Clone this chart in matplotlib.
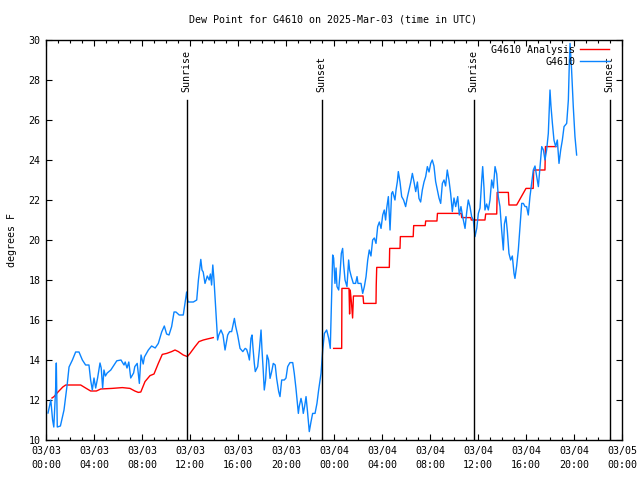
import numpy as np
import matplotlib
matplotlib.use('Agg')
import matplotlib.pyplot as plt

# hours since 2025-03-03 00:00 UTC
obs_t = [0.17, 0.4, 0.55, 0.65, 0.8, 0.86, 0.94, 1.2, 1.5, 1.78, 1.92, 2.2, 2.47, 2.75, 3.03, 3.3,
         3.58, 3.72, 3.86, 4.0, 4.14, 4.3, 4.5, 4.6, 4.72, 4.83, 4.95, 5.1, 5.4, 5.67, 5.9, 6.25,
         6.5, 6.6, 6.75, 6.9, 7.06, 7.3, 7.4, 7.6, 7.78, 7.92, 8.1, 8.2, 8.53, 8.8, 9.1, 9.36,
         9.64, 9.86, 10.05, 10.25, 10.47, 10.67, 10.83, 11.1, 11.44, 11.58, 11.72, 11.8, 11.86, 12.28,
         12.56, 12.7, 12.9, 13.0, 13.1, 13.25, 13.44, 13.6, 13.7, 13.8, 13.9, 14.0, 14.14, 14.3,
         14.4, 14.58, 14.75, 14.92, 15.14, 15.3, 15.47, 15.7, 15.8, 15.97, 16.17, 16.4, 16.6, 16.72,
         16.86, 16.95, 17.08, 17.17, 17.25, 17.36, 17.44, 17.64, 17.78, 17.92, 18.0, 18.1, 18.19, 18.3,
         18.42, 18.55, 18.67, 18.8, 18.94, 19.1, 19.22, 19.39, 19.5, 19.64, 19.86, 20.0, 20.14, 20.33,
         20.56, 20.69, 20.83, 20.92, 21.03, 21.1, 21.25, 21.35, 21.44, 21.55, 21.67, 21.78, 21.89, 21.94,
         22.08, 22.22, 22.42, 22.58, 22.72, 22.92, 23.06, 23.2, 23.39, 23.56, 23.69, 23.8, 23.89, 23.97,
         24.08, 24.17, 24.25, 24.39, 24.5, 24.61, 24.72, 24.8, 24.92, 25.08, 25.22, 25.3, 25.44, 25.61,
         25.8, 25.92, 26.0, 26.25, 26.39, 26.53, 26.67, 26.81, 26.94, 27.08, 27.22, 27.36, 27.5, 27.64,
         27.78, 27.92, 28.06, 28.19, 28.3, 28.39, 28.53, 28.67, 28.8, 28.89, 29.08, 29.17, 29.28, 29.36,
         29.5, 29.64, 29.8, 29.97, 30.1, 30.25, 30.4, 30.53, 30.67, 30.81, 30.95, 31.08, 31.22, 31.36,
         31.5, 31.64, 31.78, 31.92, 32.06, 32.19, 32.33, 32.47, 32.61, 32.75, 32.89, 33.03, 33.17, 33.3,
         33.44, 33.58, 33.72, 33.86, 34.0, 34.14, 34.31, 34.44, 34.58, 34.72, 34.92, 35.06, 35.19, 35.33,
         35.47, 35.61, 35.75, 35.9, 36.03, 36.17, 36.31, 36.39, 36.5, 36.58, 36.72, 36.86, 37.0, 37.14,
         37.28, 37.42, 37.56, 37.69, 37.83, 37.97, 38.11, 38.2, 38.33, 38.45, 38.58, 38.72, 38.86, 39.0,
         39.08, 39.22, 39.36, 39.5, 39.64, 39.78, 39.92, 40.05, 40.19, 40.33, 40.47, 40.61, 40.75, 40.89,
         41.03, 41.17, 41.31, 41.45, 41.58, 41.72, 41.86, 42.0, 42.08, 42.2, 42.33, 42.47, 42.61, 42.75,
         42.89, 43.03, 43.17, 43.39, 43.53, 43.61, 43.67, 43.8, 43.94, 44.08, 44.22]
obs_v = [11.35, 12.0, 11.0, 10.65, 12.5, 13.85, 10.65, 10.7, 11.5, 12.85, 13.65, 14.0, 14.4, 14.4, 14.0, 13.75,
         13.75, 13.0, 12.5, 13.1, 12.6, 13.1, 13.85, 13.6, 12.6, 13.5, 13.2, 13.35, 13.5, 13.75, 13.96, 14.0,
         13.75, 13.9, 13.6, 13.9, 13.1, 13.35, 13.67, 13.83, 12.83, 14.25, 13.8, 14.15, 14.5, 14.7, 14.6, 14.83,
         15.4, 15.7, 15.3, 15.25, 15.67, 16.4, 16.4, 16.25, 16.25, 16.83, 17.4, 17.0, 16.9, 16.9,
         17.0, 18.0, 19.03, 18.5, 18.4, 17.83, 18.2, 18.0, 18.3, 17.75, 18.75, 18.0, 16.6, 15.0,
         15.25, 15.5, 15.25, 14.5, 15.25, 15.42, 15.42, 16.08, 15.7, 15.25, 14.58, 14.42, 14.58, 14.53,
         14.25, 14.0, 15.08, 15.25, 14.6, 13.83, 13.42, 13.67, 14.5, 15.5, 14.5, 13.5, 12.5, 13.0,
         14.25, 14.0, 13.08, 13.4, 13.83, 13.75, 13.08, 12.42, 12.17, 13.0, 13.0, 13.1, 13.67, 13.87,
         13.87, 13.33, 12.58, 12.0, 11.33, 11.67, 12.08, 11.8, 11.33, 11.67, 12.17, 11.5, 10.75, 10.42,
         10.9, 11.33, 11.33, 11.83, 12.5, 13.33, 14.5, 15.33, 15.5, 15.08, 14.58, 17.17, 19.25, 19.1,
         17.83, 18.6, 17.67, 17.5, 18.3, 19.33, 19.58, 18.8, 18.0, 17.67, 19.0, 18.5, 18.17, 17.83,
         17.83, 18.17, 17.83, 17.83, 17.33, 17.67, 18.17, 19.0, 19.5, 19.2, 20.0, 20.1, 19.83, 20.67,
         20.9, 20.58, 21.25, 21.5, 21.0, 21.58, 22.17, 20.5, 22.33, 22.42, 22.0, 22.5, 22.92, 23.42,
         22.9, 22.17, 22.0, 21.67, 22.1, 22.5, 22.9, 23.33, 22.9, 22.42, 22.9, 22.08, 21.9, 22.5,
         22.9, 23.17, 23.67, 23.4, 23.83, 24.0, 23.7, 22.92, 22.5, 22.1, 21.83, 22.83, 23.0, 22.7,
         23.5, 23.0, 22.33, 21.42, 22.1, 21.67, 22.17, 21.25, 21.67, 21.17, 20.58, 21.4, 22.0, 21.67,
         21.17, 21.0, 20.17, 20.6, 21.33, 21.6, 23.0, 23.67, 22.6, 21.5, 21.8, 21.5, 22.0, 23.0,
         22.6, 23.67, 23.3, 22.17, 21.67, 20.5, 19.5, 20.8, 21.17, 20.4, 19.33, 19.0, 19.2, 18.33,
         18.08, 18.7, 19.5, 20.67, 21.83, 21.83, 21.67, 21.67, 21.25, 22.17, 22.83, 23.5, 23.7, 23.17,
         22.67, 23.7, 24.67, 24.5, 24.0, 24.5, 25.33, 27.5, 26.7, 25.83, 25.0, 24.67, 25.0, 23.83,
         24.5, 25.0, 25.67, 25.83, 27.0, 28.83, 29.83, 28.5, 26.67, 25.17, 24.25]

# analysis, nan marks the gap
ana_t = [0.5, 0.67, 1.0, 1.4, 1.64, 2.89, 3.3, 3.72, 4.2, 4.56, 5.5, 6.36, 7.0, 7.4, 7.69, 7.9,
         8.25, 8.67, 9.0, 9.36, 9.69, 10.06, 10.47, 10.75, 11.03, 11.44, 11.78, 12.0, 12.42, 12.75,
         13.11, 13.44, 13.94, 18.0,
         23.97, 24.64, 24.66, 25.25, 25.3, 25.35, 25.45, 25.55, 25.62, 26.42, 26.47, 27.5, 27.52,
         27.56, 28.61, 28.64, 29.5, 29.53, 30.6, 30.64, 31.6, 31.64, 32.58, 32.62, 34.6, 34.64,
         35.4, 35.44, 36.58, 36.64, 37.56, 37.6, 38.53, 38.58, 39.22, 40.0, 40.6, 40.64, 41.58,
         41.62, 42.5]
ana_v = [12.1, 12.17, 12.4, 12.65, 12.75, 12.75, 12.6, 12.45, 12.45, 12.55, 12.58, 12.62, 12.58, 12.45, 12.38, 12.4,
         12.92, 13.22, 13.3, 13.83, 14.28, 14.33, 14.42, 14.5, 14.42, 14.25, 14.17, 14.33, 14.67, 14.92,
         15.0, 15.05, 15.12, np.nan,
         14.58, 14.58, 17.58, 17.58, 16.3, 17.5, 16.9, 16.1, 17.2, 17.2, 16.83, 16.83, 17.75,
         18.63, 18.63, 19.58, 19.58, 20.17, 20.17, 20.72, 20.72, 20.95, 20.95, 21.33, 21.33, 21.12,
         21.12, 21.0, 21.0, 21.3, 21.3, 22.38, 22.38, 21.75, 21.75, 22.58, 22.58, 23.5, 23.5,
         24.67, 24.67]

sun_t = [11.75, 23.0, 35.67, 47.0]
sun_lbl = ['Sunrise', 'Sunset', 'Sunrise', 'Sunset']

xticks = list(range(0, 49, 4))
xlabels = ['03/03\n00:00', '03/03\n04:00', '03/03\n08:00', '03/03\n12:00', '03/03\n16:00', '03/03\n20:00',
           '03/04\n00:00', '03/04\n04:00', '03/04\n08:00', '03/04\n12:00', '03/04\n16:00', '03/04\n20:00',
           '03/05\n00:00']

plt.rcParams['font.family'] = 'DejaVu Sans Mono'
plt.rcParams['font.size'] = 7.2

fig = plt.figure(figsize=(6.4, 4.8), dpi=100)
ax = fig.add_axes([46/640, 40/480, 576/640, 400/480])

ax.plot(ana_t, ana_v, color='#ff0000', lw=1.0, label='G4610 Analysis')
ax.plot(obs_t, obs_v, color='#0a84ff', lw=1.0, label='G4610')

for t, s in zip(sun_t, sun_lbl):
    ax.plot([t, t], [10, 27], color='black', lw=1.0)
    ax.text(t - 0.05, 27.4, s, rotation=90, ha='center', va='bottom')

ax.set_xlim(0, 48)
ax.set_ylim(10, 30)
ax.set_xticks(xticks)
ax.set_xticklabels(xlabels, linespacing=1.6)
ax.set_xticks(range(0, 49), minor=True)
ax.set_yticks(range(10, 31, 2))
ax.tick_params(which='major', direction='in', length=4.5, width=0.8, top=True, right=True, pad=4)
ax.tick_params(which='minor', direction='in', length=2.5, width=0.8, top=True, right=False)
for sp in ax.spines.values():
    sp.set_linewidth(1.0)

ax.set_ylabel('degrees F')
ax.yaxis.set_label_coords(-0.051, 0.5)
fig.text(333/640, 1 - 19/480, 'Dew Point for G4610 on 2025-Mar-03 (time in UTC)', ha='center', va='center')

ax.legend(loc='upper right', bbox_to_anchor=(0.981, 0.993), frameon=False, markerfirst=False,
          handlelength=2.9, borderaxespad=0, labelspacing=0.2, handletextpad=0.5, borderpad=0.2)

fig.savefig('out.png', dpi=100)
